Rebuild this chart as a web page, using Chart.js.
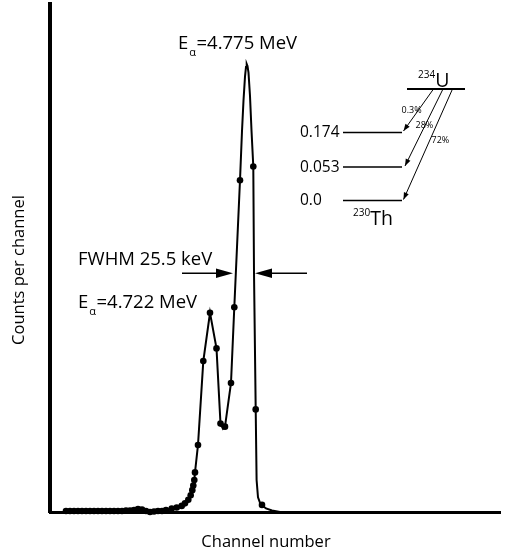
<!DOCTYPE html>
<html>
<head>
<meta charset="utf-8">
<script src="https://cdn.jsdelivr.net/npm/chart.js@4.4.0/dist/chart.umd.min.js"></script>
<style>
  html, body { margin: 0; padding: 0; background: #fff; }
  #wrap { width: 509px; height: 555px; }
</style>
</head>
<body>
<div id="wrap"><canvas id="spectrum" width="509" height="555"></canvas></div>
<script>
// Measured channel contents (dots)
const dotChannels = [16, 20, 24, 28, 32, 36, 40, 44, 48, 52, 56, 60, 64, 68, 72, 76, 80, 84, 88, 92,
  96, 100, 104, 108, 112, 116, 121.7, 126.7, 131.7, 135, 138.3, 140.7, 142.3, 143.3, 144.3, 145,
  148, 153.3, 160, 166.5, 170.5, 175, 181, 184.3, 190, 203.3, 205.7, 212];
const dotCounts = [2, 2, 2, 2, 2, 2, 2, 2, 2, 2, 2, 2, 2, 2, 2, 3, 3, 4, 6, 5,
  2, 0, 1, 2, 2, 4, 7, 9, 12, 17, 24, 33, 43, 52, 63, 78,
  132, 297, 392, 322, 174, 168, 254, 403, 653, 680, 202, 14];

// Fitted line shape through the spectrum
const curveChannels = [13, 84, 88, 92, 96, 100, 108, 116, 121.7, 126.7, 131.7, 135, 138.3, 140.7, 142.3,
  143.3, 144.3, 145, 148, 153.3, 160, 166.5, 170.5, 173, 175, 181, 184.3, 190, 192, 193.5, 195,
  196, 196.7, 197.5, 198.5, 200, 201.5, 203.3, 204, 205.7, 206.6, 208, 210, 212, 216, 222, 230];
const curveCounts = [2, 3, 6, 5, 2, 0.5, 2, 4, 7, 9, 12, 17, 24, 33, 43,
  52, 63, 78, 132, 297, 392, 322, 174, 164, 168, 254, 403, 653, 750, 810, 857,
  876, 882, 878, 865, 819, 751, 680, 472, 202, 63, 29, 18, 13, 7, 3, 0];

// FWHM marker level and the two half-height edges of the main line
const fwhmLevel = 470;
const fwhmEdges = [183, 205];

// Energy levels of the daughter nucleus (MeV) and branching ratios
const levelLabels = ['0.174', '0.053', '0.0'];
const branchLabels = ['0.3%', '28%', '72%'];

const FONT = '"Open Sans", "DejaVu Sans", sans-serif';

function arrowHead(ctx, x, y, ang, len, half) {
  ctx.save();
  ctx.translate(x, y);
  ctx.rotate(ang);
  ctx.beginPath();
  ctx.moveTo(0, 0);
  ctx.lineTo(-len, -half);
  ctx.lineTo(-len, half);
  ctx.closePath();
  ctx.fill();
  ctx.restore();
}

function energyLabel(ctx, x, y, value) {
  ctx.font = '18.5px ' + FONT;
  ctx.fillText('E', x, y);
  const w = ctx.measureText('E').width;
  ctx.font = '11px ' + FONT;
  ctx.fillText('\u03b1', x + w + 1, y + 7);
  const aw = ctx.measureText('\u03b1').width;
  ctx.font = '18.5px ' + FONT;
  ctx.fillText('=' + value + ' MeV', x + w + aw + 1.5, y);
}

function nucleus(ctx, x, y, mass, sym) {
  ctx.font = '10px ' + FONT;
  ctx.fillText(mass, x, y - 9);
  const mw = ctx.measureText(mass).width;
  ctx.font = '19.5px ' + FONT;
  ctx.fillText(sym, x + mw, y);
}

const annotations = {
  id: 'annotations',
  afterDatasetsDraw(chart) {
    const ctx = chart.ctx;
    const xs = chart.scales.x, ys = chart.scales.y;
    ctx.save();
    ctx.fillStyle = '#000';
    ctx.strokeStyle = '#000';
    ctx.textBaseline = 'alphabetic';
    ctx.textAlign = 'left';

    // peak energies
    energyLabel(ctx, 178, 48.5, '4.775');
    energyLabel(ctx, 78, 308, '4.722');

    // FWHM marker
    ctx.font = '18.5px ' + FONT;
    ctx.fillText('FWHM 25.5 keV', 78, 265);
    const fy = ys.getPixelForValue(fwhmLevel);
    const xl = xs.getPixelForValue(fwhmEdges[0]);
    const xr = xs.getPixelForValue(fwhmEdges[1]);
    ctx.lineWidth = 1.6;
    ctx.beginPath();
    ctx.moveTo(xl - 51, fy); ctx.lineTo(xl - 10, fy);
    ctx.moveTo(xr + 10, fy); ctx.lineTo(xr + 52, fy);
    ctx.stroke();
    arrowHead(ctx, xl, fy, 0, 17, 4.8);
    arrowHead(ctx, xr, fy, Math.PI, 17, 4.8);

    // decay scheme
    nucleus(ctx, 418, 87, '234', 'U');
    nucleus(ctx, 353, 225, '230', 'Th');
    ctx.lineWidth = 2;
    ctx.beginPath();
    ctx.moveTo(407, 89); ctx.lineTo(465, 89);
    ctx.stroke();
    const levelY = [132.5, 167, 200.5];
    ctx.lineWidth = 1.6;
    ctx.font = '15.5px ' + FONT;
    ctx.textBaseline = 'middle';
    levelLabels.forEach((t, i) => {
      ctx.fillText(t, 300, levelY[i] + 0.5);
      ctx.beginPath();
      ctx.moveTo(343, levelY[i]); ctx.lineTo(402, levelY[i]);
      ctx.stroke();
    });
    const starts = [433.5, 443, 452.5];
    const ends = [[403.5, 131], [405, 166], [403.5, 199.5]];
    ctx.lineWidth = 1;
    starts.forEach((sx, i) => {
      const [ex, ey] = ends[i];
      ctx.beginPath();
      ctx.moveTo(sx, 89); ctx.lineTo(ex, ey);
      ctx.stroke();
      arrowHead(ctx, ex, ey, Math.atan2(ey - 89, ex - sx), 7, 2.6);
    });
    ctx.font = '9px ' + FONT;
    const branchPos = [[401.5, 110], [415.5, 125], [431.5, 140]];
    branchLabels.forEach((t, i) => ctx.fillText(t, branchPos[i][0], branchPos[i][1]));

    // axis titles
    ctx.font = '16.5px ' + FONT;
    ctx.textAlign = 'center';
    ctx.textBaseline = 'alphabetic';
    ctx.fillText('Channel number', 266, 547);
    ctx.translate(24, 270);
    ctx.rotate(-Math.PI / 2);
    ctx.fillText('Counts per channel', 0, 0);
    ctx.restore();
  }
};

new Chart(document.getElementById('spectrum'), {
  type: 'scatter',
  data: {
    datasets: [
      {
        data: dotChannels.map((c, i) => ({ x: c, y: dotCounts[i] })),
        showLine: false,
        pointRadius: 3.3,
        pointBackgroundColor: '#000',
        pointBorderWidth: 0,
        clip: false
      },
      {
        data: curveChannels.map((c, i) => ({ x: c, y: curveCounts[i] })),
        showLine: true,
        borderColor: '#000',
        borderWidth: 2,
        pointRadius: 0,
        tension: 0,
        clip: false
      }
    ]
  },
  options: {
    responsive: false,
    animation: false,
    devicePixelRatio: 1,
    layout: { padding: { left: 50, right: 9, top: 3, bottom: 43 } },
    plugins: { legend: { display: false }, tooltip: { enabled: false } },
    scales: {
      x: {
        type: 'linear', min: 0, max: 450,
        ticks: { display: false },
        grid: { display: false, drawTicks: false },
        border: { display: true, color: '#000', width: 3 }
      },
      y: {
        type: 'linear', min: 0, max: 1000,
        ticks: { display: false },
        grid: { display: false, drawTicks: false },
        border: { display: true, color: '#000', width: 4 }
      }
    }
  },
  plugins: [annotations]
});
</script>
</body>
</html>
